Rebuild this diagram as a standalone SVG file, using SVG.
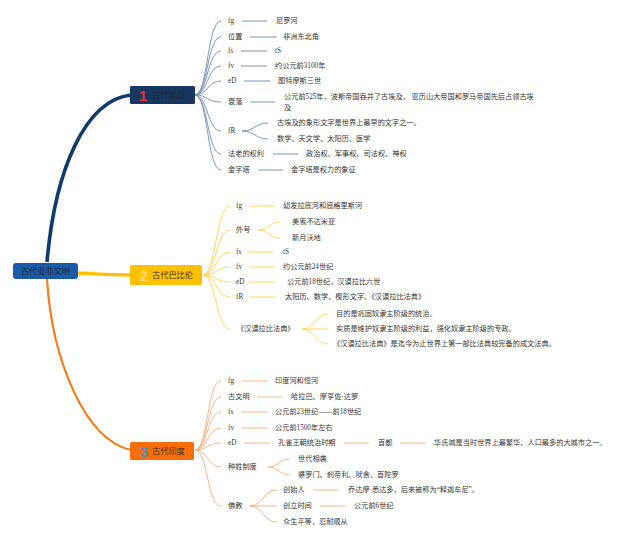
<svg xmlns="http://www.w3.org/2000/svg" width="640" height="542" viewBox="0 0 640 542">
<style>
text{font-family:"Liberation Serif","Noto Sans CJK SC",serif;fill:#333;dominant-baseline:central}
.t{font-size:7.2px}
.b{font-size:8.2px;fill:#1e2a3a}
.num{font-family:"Liberation Sans","Noto Sans CJK SC",sans-serif;font-size:15px;font-weight:bold}
.c1{fill:none;stroke:#6f8bb0;stroke-width:0.9}
.c2{fill:none;stroke:#ffd24d;stroke-width:0.9}
.c3{fill:none;stroke:#f5b07a;stroke-width:0.9}
</style>
<rect width="640" height="542" fill="#ffffff"/>
<g id="connectors">
  <path d="M47,262 C55,170 85,100 131,95" fill="none" stroke="#0f3a6b" stroke-width="3.6"/>
  <path d="M78,273 C100,274 110,275 131,275" fill="none" stroke="#ffc000" stroke-width="3.4"/>
  <path d="M47,279 C52,360 85,440 131,450" fill="none" stroke="#f57c1a" stroke-width="2.2"/>
  <!-- branch 1 fan -->
  <path class="c1" d="M195,95 C208,95 207,21 221,21"/>
  <path class="c1" d="M195,95 C208,95 207,37 221,37"/>
  <path class="c1" d="M195,95 C208,95 207,51 221,51"/>
  <path class="c1" d="M195,95 C208,95 207,66 221,66"/>
  <path class="c1" d="M195,95 C208,95 207,81 221,81"/>
  <path class="c1" d="M195,95 C208,95 207,102 221,102"/>
  <path class="c1" d="M195,95 C208,95 207,131 221,131"/>
  <path class="c1" d="M195,95 C208,95 207,154 221,154"/>
  <path class="c1" d="M195,95 C208,95 207,170 221,170"/>
  <path class="c1" d="M242,21 H267 M250,37 H277 M241,51 H267 M241,66 H267 M244,81 H270 M250,102 H275 M273,154 H298 M258,170 H283"/>
  <path class="c1" d="M242,131 C255,131 255,123 268,123 M242,131 C255,131 255,139 268,139"/>
  <!-- branch 2 fan -->
  <path class="c2" d="M203,275 C216,275 216,206 230,206"/>
  <path class="c2" d="M203,275 C216,275 216,230 230,230"/>
  <path class="c2" d="M203,275 C216,275 216,252 230,252"/>
  <path class="c2" d="M203,275 C216,275 216,267 230,267"/>
  <path class="c2" d="M203,275 C216,275 216,282 230,282"/>
  <path class="c2" d="M203,275 C216,275 216,297 230,297"/>
  <path class="c2" d="M203,275 C216,275 216,329 230,329"/>
  <path class="c2" d="M250,206 H275 M248,252 H273 M250,267 H275 M248,282 H275 M250,297 H275"/>
  <path class="c2" d="M258,230 C269,230 269,222 280,222 M258,230 C269,230 269,238 280,238"/>
  <path class="c2" d="M302,329 C315,329 315,314 328,314 M302,329 H328 M302,329 C315,329 315,344 328,344"/>
  <!-- branch 3 fan -->
  <path class="c3" d="M195,450 C208,450 207,381 221,381"/>
  <path class="c3" d="M195,450 C208,450 207,397 221,397"/>
  <path class="c3" d="M195,450 C208,450 207,412 221,412"/>
  <path class="c3" d="M195,450 C208,450 207,428 221,428"/>
  <path class="c3" d="M195,450 C208,450 207,443 221,443"/>
  <path class="c3" d="M195,450 C208,450 207,467 221,467"/>
  <path class="c3" d="M195,450 C208,450 207,506 221,506"/>
  <path class="c3" d="M242,381 H267 M257,397 H282 M241,412 H267 M241,428 H267 M244,443 H270 M344,443 H369 M400,443 H426 M313,490 H338 M320,506 H346"/>
  <path class="c3" d="M268,467 C279,467 279,459 290,459 M268,467 C279,467 279,475 290,475"/>
  <path class="c3" d="M250,506 C263,506 263,490 277,490 M250,506 H277 M250,506 C263,506 263,522 277,522"/>
</g>
<g id="root">
  <rect x="13" y="263" width="65" height="16" rx="3" fill="#1a5aa6"/>
  <text class="b" x="45.5" y="271" text-anchor="middle" fill="#14233a">古代亚非文明</text>
</g>
<g id="b1">
  <rect x="130" y="86" width="65" height="18" rx="1.5" fill="#17375e"/>
  <text class="num" x="143" y="95.5" text-anchor="middle" style="fill:#e0323c">1</text>
  <text class="b" x="152" y="95">古代埃及</text>
</g>
<g id="b2">
  <rect x="130" y="265" width="72" height="20" rx="1.5" fill="#ffc000"/>
  <text class="num" x="144" y="275.5" text-anchor="middle" style="fill:#ffdb6e">2</text>
  <text class="b" x="152" y="275" style="fill:#333">古代巴比伦</text>
</g>
<g id="b3">
  <rect x="130" y="442" width="64" height="18" rx="1.5" fill="#fa6e0a"/>
  <text class="num" x="144" y="451.5" text-anchor="middle" style="fill:#4a90c0">3</text>
  <text class="b" x="152" y="451" style="fill:#333">古代印度</text>
</g>
<g id="b1-items">
  <text class="t" x="228" y="21">fg</text><text class="t" x="276" y="21">尼罗河</text>
  <text class="t" x="228" y="37">位置</text><text class="t" x="283" y="37">非洲东北角</text>
  <text class="t" x="228" y="51">fs</text><text class="t" x="275" y="51">tS</text>
  <text class="t" x="228" y="66">fv</text><text class="t" x="275" y="66">约公元前3100年</text>
  <text class="t" x="228" y="81">eD</text><text class="t" x="278" y="81">图特摩斯三世</text>
  <text class="t" x="228" y="102">衰落</text>
  <text class="t" x="284" y="97">公元前525年，波斯帝国吞并了古埃及， 亚历山大帝国和罗马帝国先后占领古埃</text>
  <text class="t" x="284" y="108">及</text>
  <text class="t" x="228" y="131">fR</text>
  <text class="t" x="277" y="123">古埃及的象形文字是世界上最早的文字之一。</text>
  <text class="t" x="277" y="139">数学、天文学、太阳历、医学</text>
  <text class="t" x="228" y="154">法老的权利</text><text class="t" x="306" y="154">政治权、军事权、司法权、神权</text>
  <text class="t" x="228" y="170">金字塔</text><text class="t" x="291" y="170">金字塔是权力的象征</text>
</g>
<g id="b2-items">
  <text class="t" x="236" y="206">fg</text><text class="t" x="283" y="206">幼发拉底河和底格里斯河</text>
  <text class="t" x="236" y="230">外号</text>
  <text class="t" x="292" y="222">美索不达米亚</text>
  <text class="t" x="292" y="238">新月沃地</text>
  <text class="t" x="236" y="252">fs</text><text class="t" x="283" y="252">tS</text>
  <text class="t" x="236" y="267">fv</text><text class="t" x="283" y="267">约公元前24世纪</text>
  <text class="t" x="236" y="282">eD</text><text class="t" x="287" y="282">公元前18世纪，汉谟拉比六世</text>
  <text class="t" x="236" y="297">fR</text><text class="t" x="285" y="297">太阳历、数学、楔形文字、《汉谟拉比法典》</text>
  <text class="t" x="237" y="329">《汉谟拉比法典》</text>
  <text class="t" x="336" y="314">目的是巩固奴隶主阶级的统治。</text>
  <text class="t" x="336" y="329">实质是维护奴隶主阶级的利益，强化奴隶主阶级的专政。</text>
  <text class="t" x="333" y="344">《汉谟拉比法典》是迄今为止世界上第一部比法典较完备的成文法典。</text>
</g>
<g id="b3-items">
  <text class="t" x="228" y="381">fg</text><text class="t" x="275" y="381">印度河和恒河</text>
  <text class="t" x="228" y="397">古文明</text><text class="t" x="291" y="397">哈拉巴、摩亨佐·达罗</text>
  <text class="t" x="228" y="412">fs</text><text class="t" x="275" y="412">公元前23世纪——前18世纪</text>
  <text class="t" x="228" y="428">fv</text><text class="t" x="275" y="428">公元前1500年左右</text>
  <text class="t" x="228" y="443">eD</text><text class="t" x="278" y="443">孔雀王朝统治时期</text>
  <text class="t" x="378" y="443">首都</text>
  <text class="t" x="434" y="443">华氏城是当时世界上最繁华、人口最多的大城市之一。</text>
  <text class="t" x="228" y="467">种姓制度</text>
  <text class="t" x="298" y="459">世代相袭</text>
  <text class="t" x="298" y="475">婆罗门、刹帝利、吠舍、首陀罗</text>
  <text class="t" x="228" y="506">佛教</text>
  <text class="t" x="283" y="490">创始人</text><text class="t" x="348" y="490">乔达摩·悉达多，后来被称为“释迦牟尼”。</text>
  <text class="t" x="283" y="506">创立时间</text><text class="t" x="354" y="506">公元前6世纪</text>
  <text class="t" x="283" y="522">众生平等，忍耐顺从</text>
</g>
</svg>
